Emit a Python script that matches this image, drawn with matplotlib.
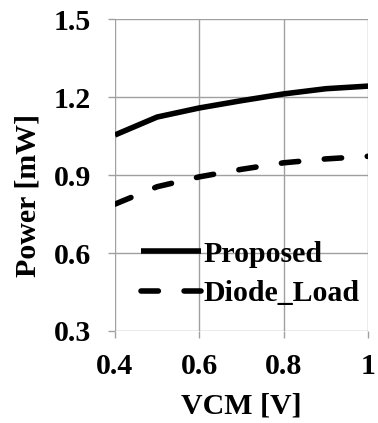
import matplotlib
matplotlib.use("Agg")
import matplotlib.pyplot as plt

vcm = [0.4, 0.5, 0.6, 0.7, 0.8, 0.9, 1.0]
proposed = [1.054, 1.123, 1.158, 1.186, 1.212, 1.232, 1.242]
diode_load = [0.788, 0.855, 0.893, 0.922, 0.947, 0.962, 0.972]
xticks = [0.4, 0.6, 0.8, 1.0]
xticklabels = ["0.4", "0.6", "0.8", "1"]
yticks = [0.3, 0.6, 0.9, 1.2, 1.5]
yticklabels = ["0.3", "0.6", "0.9", "1.2", "1.5"]

plt.rcParams['font.family'] = ['Liberation Serif', 'DejaVu Serif']
plt.rcParams['font.weight'] = 'bold'
plt.rcParams['lines.scale_dashes'] = False

FS = 21.5

fig = plt.figure(figsize=(3.78, 4.23), dpi=100)
ax = fig.add_axes([0.304, 0.2175, 0.670, 0.7375])

ax.plot(vcm, proposed, color='black', lw=4.0, solid_capstyle='butt', label='Proposed', zorder=3)
ax.plot(vcm, diode_load, color='black', lw=4.0, ls=(0, (12.5, 18.5)), dash_capstyle='round',
        label='Diode_Load', zorder=3)

ax.set_xlim(0.4, 1.0)
ax.set_ylim(0.3, 1.5)
ax.set_xticks(xticks)
ax.set_xticklabels(xticklabels)
ax.set_yticks(yticks)
ax.set_yticklabels(yticklabels)
ax.grid(True, color='#a0a0a0', lw=1.0)
for s in ax.spines.values():
    s.set_visible(False)
ax.tick_params(axis='both', length=5, width=1.0, color='#a0a0a0', labelsize=FS)
ax.tick_params(axis='y', pad=12)
ax.tick_params(axis='x', pad=11)
for lab in ax.get_xticklabels() + ax.get_yticklabels():
    lab.set_fontweight('bold')

ax.set_xlabel('VCM [V]', fontsize=FS, fontweight='bold', labelpad=9)
ax.set_ylabel('Power [mW]', fontsize=FS, fontweight='bold')
ax.yaxis.set_label_coords(-0.29, 0.436)

leg = ax.legend(loc='center left', bbox_to_anchor=(0.103, 0.183), frameon=False,
                handlelength=2.0, handletextpad=0.08, labelspacing=0.42,
                borderaxespad=0.0, borderpad=0.0,
                prop={'weight': 'bold', 'size': FS})

fig.savefig('out.png', dpi=100, facecolor='white')
